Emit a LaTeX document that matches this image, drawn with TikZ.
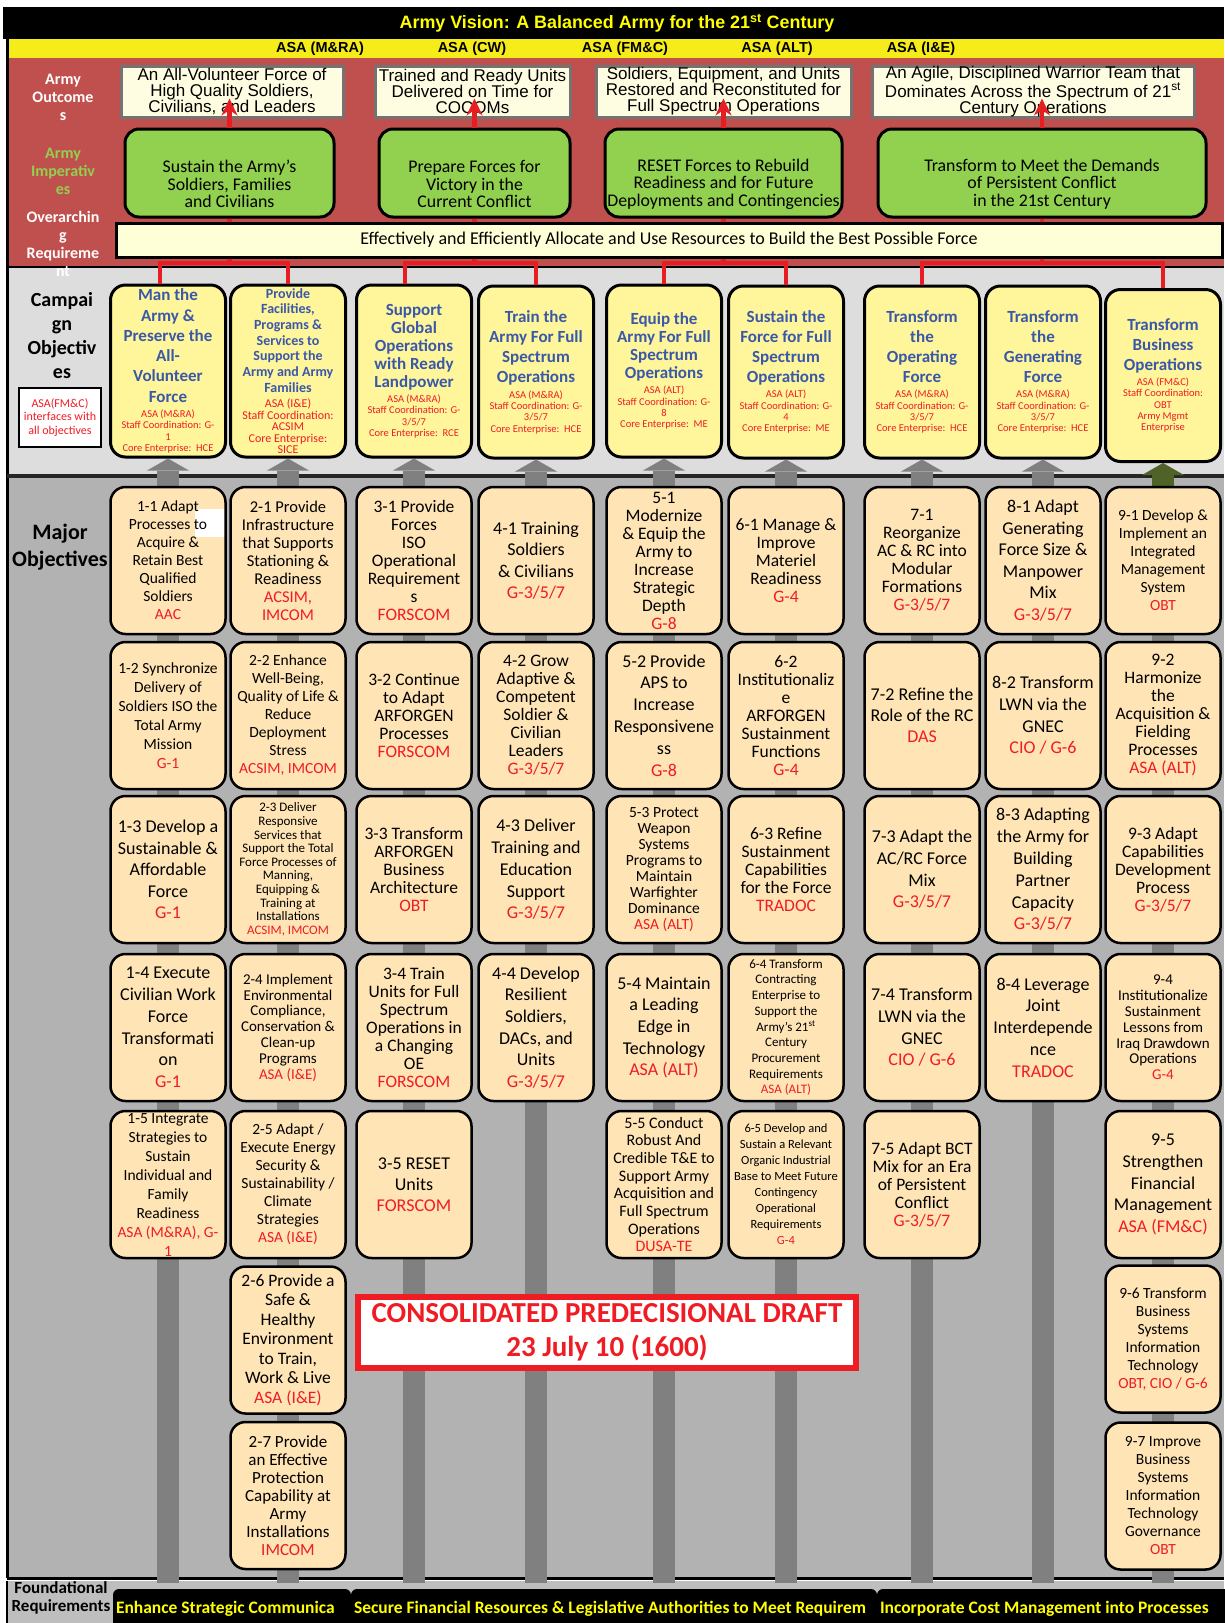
\documentclass[tikz,border=0pt]{standalone}
\usepackage{fontspec}
\setmainfont{Carlito}
\newfontfamily\arialfont{Liberation Sans}
\usetikzlibrary{arrows.meta,positioning,calc}

\definecolor{outred}{RGB}{192,80,77}
\definecolor{impgreen}{RGB}{146,208,80}
\definecolor{asayellow}{RGB}{245,236,25}
\definecolor{visionyellow}{RGB}{255,255,0}
\definecolor{outcream}{RGB}{255,253,225}
\definecolor{reqcream}{RGB}{255,255,215}
\definecolor{campgray}{RGB}{221,221,221}
\definecolor{mogray}{RGB}{178,178,178}
\definecolor{bargray}{RGB}{128,128,128}
\definecolor{bargreen}{RGB}{79,98,40}
\definecolor{campyellow}{RGB}{255,245,155}
\definecolor{campblue}{RGB}{58,88,168}
\definecolor{mopeach}{RGB}{255,228,181}
\definecolor{ownred}{RGB}{240,28,36}
\definecolor{linkred}{RGB}{230,30,36}
\definecolor{foundgray}{RGB}{190,190,190}

% campaign objective: name, position, title size, title skip, title, owner
\newcommand{\campobj}[6]{%
	\node[camp] (#1) at (#2) {\makebox[112pt]{\parbox{140pt}{\centering
		\fontsize{#3}{#4}\selectfont\bfseries\color{campblue}#5\par\vskip 4pt
		\fontsize{10.5}{11.3}\selectfont\mdseries\color{ownred}#6\par}}};%
}
% major objective: [extra], name, position, size, skip, text, owner
\newcommand{\mobj}[7][]{%
	\node[mo,#1] (#2) at (#3) {\makebox[112pt]{\parbox{140pt}{\centering
		\fontsize{#4}{#5}\selectfont #6\\\textcolor{ownred}{#7}\par}}};%
}

\begin{document}
\begin{tikzpicture}[x=1pt, y=-1pt,
	asalab/.style={font=\arialfont\bfseries\fontsize{14.5}{16}\selectfont},
	sidelab/.style={align=center, text=white, font=\bfseries\fontsize{16}{18}\selectfont},
	outbox/.style={draw=black!55, line width=3pt, fill=outcream, minimum height=51pt, inner sep=0pt,
		align=center, font=\arialfont\fontsize{17}{16}\selectfont},
	impbox/.style={draw=black, line width=3pt, fill=impgreen, rounded corners=14pt, minimum height=88pt, inner sep=0pt},
	imptext/.style={align=center, font=\fontsize{17.8}{17.5}\selectfont},
	reqbar/.style={draw=black, line width=3pt, fill=reqcream, minimum width=1106pt, minimum height=34pt,
		font=\fontsize{18}{18}\selectfont},
	camp/.style={draw=black, line width=3pt, fill=campyellow, rounded corners=15pt,
		minimum width=115pt, minimum height=172pt, inner sep=0pt},
	mo/.style={draw=black, line width=2.5pt, fill=mopeach, rounded corners=15pt,
		minimum width=115pt, minimum height=147pt, inner sep=0pt},
	redlink/.style={draw=linkred, line width=4.5pt},
	colbar/.style={draw=bargray, line width=22pt},
	stampbox/.style={draw=ownred, line width=6pt, fill=white, minimum width=498pt, minimum height=71pt,
		align=center, text=ownred, font=\bfseries\fontsize{29}{34}\selectfont},
	foundbar/.style={fill=black, rounded corners=6pt, minimum height=40pt, inner xsep=3pt,
		text=visionyellow, font=\bfseries\fontsize{17.5}{18}\selectfont}]

	\useasboundingbox (0,0) rectangle (1224,1623);
	\fill[white] (0,0) rectangle (1224,1623);

	%% bands
	\fill[black] (3,7) rectangle (1224,39);
	\fill[asayellow] (7,39) rectangle (1224,58);
	\fill[outred] (7,58) rectangle (1224,267);
	\fill[campgray] (7,267) rectangle (1224,476);
	\fill[mogray] (7,476) rectangle (1224,1578);
	\fill[foundgray] (7,1581) rectangle (1224,1623);
	\draw[line width=3pt] (7,39) -- (7,1578);
	\draw[line width=2.5pt] (7,267) -- (1224,267);
	\draw[line width=4pt, black!85] (7,476) -- (1224,476);
	\draw[line width=3pt] (7,1578) -- (1224,1578);
	\draw[line width=2pt] (7,1581) -- (7,1623);

	% vision and secretariats
	\node[text=visionyellow, font=\arialfont\bfseries\fontsize{17.9}{18}\selectfont] (vision) at (617,23)
		{Army Vision: A Balanced Army for the 21\textsuperscript{st} Century};
	\node[asalab] (asa1) at (320,49) {ASA (M\&RA)};
	\node[asalab] (asa2) at (472,49) {ASA (CW)};
	\node[asalab] (asa3) at (625,49) {ASA (FM\&C)};
	\node[asalab] (asa4) at (777,49) {ASA (ALT)};
	\node[asalab] (asa5) at (921,49) {ASA (I\&E)};

	% row labels
	\node[sidelab] (outlab) at (63,97) {Army\\Outcome\\s};
	\node[sidelab, text=impgreen] (implab) at (63,171) {Army\\Imperativ\\es};
	\node[sidelab] (reqlab) at (63,244) {Overarchin\\g\\Requireme\\nt};
	\node[align=center, font=\bfseries\fontsize{20}{24.3}\selectfont] (camplab) at (62,335.5) {Campai\\gn\\Objectiv\\es};
	\node[draw=black, line width=2pt, fill=white, minimum width=82pt, minimum height=59pt, inner sep=0pt,
		align=center, text=ownred, font=\fontsize{12}{13.5}\selectfont] (fmc) at (60,417.5)
		{ASA(FM\&C)\\interfaces with\\all objectives};
	\node[align=center, font=\bfseries\fontsize{22}{27}\selectfont] (molab) at (60,547.5) {Major\\Objectives};

	%% outcomes
	\node[outbox, minimum width=222pt] (out1) at (232,91.5) {An All-Volunteer Force of\\High Quality Soldiers,\\Civilians, and Leaders};
	\node[outbox, minimum width=195pt] (out2) at (472.5,91.5) {Trained and Ready Units\\Delivered on Time for\\COCOMs};
	\node[outbox, minimum width=255pt] (out3) at (723.5,91.5) {Soldiers, Equipment, and Units\\Restored and Reconstituted for\\Full Spectrum Operations};
	\node[outbox, minimum width=322pt] (out4) at (1033,91.5) {An Agile, Disciplined Warrior Team that\\Dominates Across the Spectrum of 21\textsuperscript{st}\\Century Operations};

	%% imperatives
	\node[impbox, minimum width=209pt] (imp1) at (229.5,173) {};
	\node[impbox, minimum width=191pt] (imp2) at (474.5,173) {};
	\node[impbox, minimum width=237pt] (imp3) at (723.5,173) {};
	\node[impbox, minimum width=328pt] (imp4) at (1042,173) {};
	\node[imptext] (imp1t) at (229.5,184) {Sustain the Army's\\Soldiers, Families\\and Civilians};
	\node[imptext] (imp2t) at (474.5,184) {Prepare Forces for\\Victory in the\\Current Conflict};
	\node[imptext] (imp3t) at (723.5,184) {RESET Forces to Rebuild\\Readiness and for Future\\Deployments and Contingencies};
	\node[imptext] (imp4t) at (1042,184) {Transform to Meet the Demands\\of Persistent Conflict\\in the 21st Century};

	\node[reqbar] (req) at (669,240) {Effectively and Efficiently Allocate and Use Resources to Build the Best Possible Force};

	%% campaign objectives
	\campobj{c1}{168,371}{17}{20.3}{Man the\\Army \&\\Preserve the\\All-\\Volunteer\\Force}
		{ASA (M\&RA)\\Staff Coordination: G-\\1\\Core Enterprise:\ \ HCE}
	\campobj{c2}{288,371}{14}{15.7}{Provide\\Facilities,\\Programs \&\\Services to\\Support the\\Army and Army\\Families}
		{\fontsize{12}{11.5}\selectfont ASA (I\&E)\\Staff Coordination:\\ACSIM\\Core Enterprise:\\SICE}
	\campobj{c3}{414,371}{17}{18}{Support\\Global\\Operations\\with Ready\\Landpower}
		{ASA (M\&RA)\\Staff Coordination: G-\\3/5/7\\Core Enterprise:\ \ RCE}
	\campobj{c4}{536,372}{17}{20.3}{Train the\\Army For Full\\Spectrum\\Operations}
		{ASA (M\&RA)\\Staff Coordination: G-\\3/5/7\\Core Enterprise:\ \ HCE}
	\campobj{c5}{664,371}{17}{18}{Equip the\\Army For Full\\Spectrum\\Operations}
		{ASA (ALT)\\Staff Coordination: G-\\8\\Core Enterprise:\ \ ME}
	\campobj{c6}{786,372}{17}{20}{Sustain the\\Force for Full\\Spectrum\\Operations}
		{ASA (ALT)\\Staff Coordination: G-\\4\\Core Enterprise:\ \ ME}
	\campobj{c7}{922,372}{17}{20}{Transform\\the\\Operating\\Force}
		{ASA (M\&RA)\\Staff Coordination: G-\\3/5/7\\Core Enterprise:\ \ HCE}
	\campobj{c8}{1043,372}{17}{20}{Transform\\the\\Generating\\Force}
		{ASA (M\&RA)\\Staff Coordination: G-\\3/5/7\\Core Enterprise:\ \ HCE}
	\campobj{c9}{1163,375.5}{17}{20}{Transform\\Business\\Operations}
		{ASA (FM\&C)\\Staff Coordination:\\OBT\\Army Mgmt\\Enterprise}

	%% column bars up to the campaign objectives
	\foreach \n/\x in {1/168,2/288,3/414,4/536,5/664,6/786,7/922,8/1043,9/1163}
		\coordinate (b\n) at (\x,1583);
	\foreach \n in {1,...,8} {
		\draw[colbar] (b\n) -- ([yshift=-12pt]c\n.south);
		\fill[bargray] ([xshift=-21pt,yshift=-12pt]c\n.south) -- ([xshift=21pt,yshift=-12pt]c\n.south) -- (c\n.south) -- cycle;
	}
	\coordinate (t9) at (1163,487);
	\draw[colbar] (b9) -- (t9);
	\draw[colbar, draw=bargreen] (t9) -- ([yshift=-12pt]c9.south);
	\fill[bargreen] ([xshift=-21pt,yshift=-12pt]c9.south) -- ([xshift=21pt,yshift=-12pt]c9.south) -- (c9.south) -- cycle;

	%% major objectives
	% column 1
	\mobj[path picture={\fill[white, sharp corners] ([xshift=-31pt,yshift=-22pt]path picture bounding box.north east)
		rectangle ([yshift=-50pt]path picture bounding box.north east);}]
		{m11}{168,560.5}{15.5}{18}{1-1 Adapt\\Processes to\\Acquire \&\\Retain Best\\Qualified\\Soldiers}{AAC}
	\mobj{m12}{168,715.5}{15.5}{19}{1-2 Synchronize\\Delivery of\\Soldiers ISO the\\Total Army\\Mission}{G-1}
	\mobj{m13}{168,869.5}{18}{21.5}{1-3 Develop a\\Sustainable \&\\Affordable\\Force}{G-1}
	\mobj{m14}{168,1027.5}{18}{21.7}{1-4 Execute\\Civilian Work\\Force\\Transformati\\on}{G-1}
	\mobj{m15}{168,1184.5}{15.5}{19}{1-5 Integrate\\Strategies to\\Sustain\\Individual and\\Family\\Readiness}{ASA (M\&RA), G-\\1}
	% column 2
	\mobj{m21}{288,560.5}{16.5}{18}{2-1 Provide\\Infrastructure\\that Supports\\Stationing \&\\Readiness}{ACSIM,\\IMCOM}
	\mobj{m22}{288,715.5}{15.5}{18}{2-2 Enhance\\Well-Being,\\Quality of Life \&\\Reduce\\Deployment\\Stress}{ACSIM, IMCOM}
	\mobj{m23}{288,869.5}{13}{13.6}{2-3 Deliver\\Responsive\\Services that\\Support the Total\\Force Processes of\\Manning,\\Equipping \&\\Training at\\Installations}{ACSIM, IMCOM}
	\mobj{m24}{288,1027.5}{15}{15.8}{2-4 Implement\\Environmental\\Compliance,\\Conservation \&\\Clean-up\\Programs}{ASA (I\&E)}
	\mobj{m25}{288,1184.5}{15.5}{18}{2-5 Adapt /\\Execute Energy\\Security \&\\Sustainability /\\Climate\\Strategies}{ASA (I\&E)}
	\mobj{m26}{288,1340}{17.5}{19.5}{2-6 Provide a\\Safe \&\\Healthy\\Environment\\to Train,\\Work \& Live}{ASA (I\&E)}
	\mobj{m27}{288,1495.5}{17}{18}{2-7 Provide\\an Effective\\Protection\\Capability at\\Army\\Installations}{IMCOM}
	% column 3
	\mobj{m31}{414,560.5}{17.5}{18}{3-1 Provide\\Forces\\ISO\\Operational\\Requirement\\s}{FORSCOM}
	\mobj{m32}{414,715.5}{17.5}{18}{3-2 Continue\\to Adapt\\ARFORGEN\\Processes}{FORSCOM}
	\mobj{m33}{414,869.5}{17.5}{18}{3-3 Transform\\ARFORGEN\\Business\\Architecture}{OBT}
	\mobj{m34}{414,1027.5}{17.5}{18}{3-4 Train\\Units for Full\\Spectrum\\Operations in\\a Changing\\OE}{FORSCOM}
	\mobj{m35}{414,1184.5}{18}{21}{3-5 RESET\\Units}{FORSCOM}
	% column 4
	\mobj{m41}{536,560.5}{18}{21.5}{4-1 Training\\Soldiers\\\& Civilians}{G-3/5/7}
	\mobj{m42}{536,715.5}{17.5}{18}{4-2 Grow\\Adaptive \&\\Competent\\Soldier \&\\Civilian\\Leaders}{G-3/5/7}
	\mobj{m43}{536,869.5}{18}{21.7}{4-3 Deliver\\Training and\\Education\\Support}{G-3/5/7}
	\mobj{m44}{536,1027.5}{18}{21.6}{4-4 Develop\\Resilient\\Soldiers,\\DACs, and\\Units}{G-3/5/7}
	% column 5
	\mobj{m51}{664,560.5}{17.5}{18}{5-1\\Modernize\\\& Equip the\\Army to\\Increase\\Strategic\\Depth}{G-8}
	\mobj{m52}{664,715.5}{18}{21.8}{5-2 Provide\\APS to\\Increase\\Responsivene\\ss}{G-8}
	\mobj{m53}{664,869.5}{15.5}{16}{5-3 Protect\\Weapon\\Systems\\Programs to\\Maintain\\Warfighter\\Dominance}{ASA (ALT)}
	\mobj{m54}{664,1027.5}{18}{21.7}{5-4 Maintain\\a Leading\\Edge in\\Technology}{ASA (ALT)}
	\mobj{m55}{664,1184.5}{16}{17.7}{5-5 Conduct\\Robust And\\Credible T\&E to\\Support Army\\Acquisition and\\Full Spectrum\\Operations}{DUSA-TE}
	% column 6
	\mobj{m61}{786,560.5}{17.5}{18}{6-1 Manage \&\\Improve\\Materiel\\Readiness}{G-4}
	\mobj{m62}{786,715.5}{17.5}{18}{6-2\\Institutionaliz\\e\\ARFORGEN\\Sustainment\\Functions}{G-4}
	\mobj{m63}{786,869.5}{17.5}{18}{6-3 Refine\\Sustainment\\Capabilities\\for the Force}{TRADOC}
	\mobj{m64}{786,1027.5}{13}{15.7}{6-4 Transform\\Contracting\\Enterprise to\\Support the\\Army's 21\textsuperscript{st}\\Century\\Procurement\\Requirements}{ASA (ALT)}
	\mobj{m65}{786,1184.5}{12.5}{16}{6-5 Develop and\\Sustain a Relevant\\Organic Industrial\\Base to Meet Future\\Contingency\\Operational\\Requirements}{G-4}
	% column 7
	\mobj{m71}{922,560.5}{17.5}{18}{7-1\\Reorganize\\AC \& RC into\\Modular\\Formations}{G-3/5/7}
	\mobj{m72}{922,715.5}{18}{21}{7-2 Refine the\\Role of the RC}{DAS}
	\mobj{m73}{922,869.5}{18}{21.7}{7-3 Adapt the\\AC/RC Force\\Mix}{G-3/5/7}
	\mobj{m74}{922,1027.5}{18}{21.7}{7-4 Transform\\LWN via the\\GNEC}{CIO / G-6}
	\mobj{m75}{922,1184.5}{17.5}{18}{7-5 Adapt BCT\\Mix for an Era\\of Persistent\\Conflict}{G-3/5/7}
	% column 8
	\mobj{m81}{1043,560.5}{18}{21.5}{8-1 Adapt\\Generating\\Force Size \&\\Manpower\\Mix}{G-3/5/7}
	\mobj{m82}{1043,715.5}{18}{21.7}{8-2 Transform\\LWN via the\\GNEC}{CIO / G-6}
	\mobj{m83}{1043,869.5}{18}{21.8}{8-3 Adapting\\the Army for\\Building\\Partner\\Capacity}{G-3/5/7}
	\mobj{m84}{1043,1027.5}{18}{21.7}{8-4 Leverage\\Joint\\Interdepende\\nce}{TRADOC}
	% column 9
	\mobj{m91}{1163,560.5}{15.5}{18}{9-1 Develop \&\\Implement an\\Integrated\\Management\\System}{OBT}
	\mobj{m92}{1163,715.5}{17.5}{18}{9-2\\Harmonize\\the\\Acquisition \&\\Fielding\\Processes}{ASA (ALT)}
	\mobj{m93}{1163,869.5}{17.5}{18}{9-3 Adapt\\Capabilities\\Development\\Process}{G-3/5/7}
	\mobj{m94}{1163,1027.5}{15}{15.8}{9-4\\Institutionalize\\Sustainment\\Lessons from\\Iraq Drawdown\\Operations}{G-4}
	\mobj{m95}{1163,1184.5}{18}{21.7}{9-5\\Strengthen\\Financial\\Management}{ASA (FM\&C)}
	\mobj{m96}{1163,1339}{15.5}{18}{9-6 Transform\\Business\\Systems\\Information\\Technology}{OBT, CIO / G-6}
	\mobj{m97}{1163,1496}{15.5}{18}{9-7 Improve\\Business\\Systems\\Information\\Technology\\Governance}{OBT}

	% draft stamp
	\node[stampbox] (stamp) at (607,1332) {CONSOLIDATED PREDECISIONAL DRAFT\\23 July 10 (1600)};

	%% red links
	\coordinate (j1) at (229.5,263);
	\coordinate (j2) at (474.5,263);
	\coordinate (j3) at (723.5,263);
	\coordinate (j4) at (1042,263);
	\foreach \i in {1,...,4} {
		\draw[redlink, -{Stealth[length=17pt,width=16pt]}] (imp\i.north) -- ($(imp\i.north |- out\i.south)+(0,-20)$);
		\draw[redlink] (imp\i.south) -- (imp\i.south |- req.north);
		\draw[redlink] (imp\i.south |- req.south) -- (j\i);
	}
	\draw[redlink] ([xshift=-8pt]c1.north) |- (j1) -| (c2.north);
	\draw[redlink] ([xshift=-9pt]c3.north) |- (j2) -| (c4.north);
	\draw[redlink] (c5.north) |- (j3) -| (c6.north);
	\draw[redlink] (c7.north) |- (j4) -| (c9.north);

	%% foundational requirements
	\node[align=center, font=\bfseries\fontsize{17}{18}\selectfont] (fndlab) at (61,1598) {Foundational\\Requirements};
	\node[foundbar, minimum width=238pt] (fr1) at (232,1609) {\makebox[232pt][l]{Enhance Strategic Communica}};
	\node[foundbar, minimum width=526pt] (fr2) at (614,1609) {\makebox[520pt][l]{Secure Financial Resources \& Legislative Authorities to Meet Requirem}};
	\node[foundbar, minimum width=353pt] (fr3) at (1053.5,1609) {\makebox[347pt][l]{Incorporate Cost Management into Processes}};
\end{tikzpicture}
\end{document}
